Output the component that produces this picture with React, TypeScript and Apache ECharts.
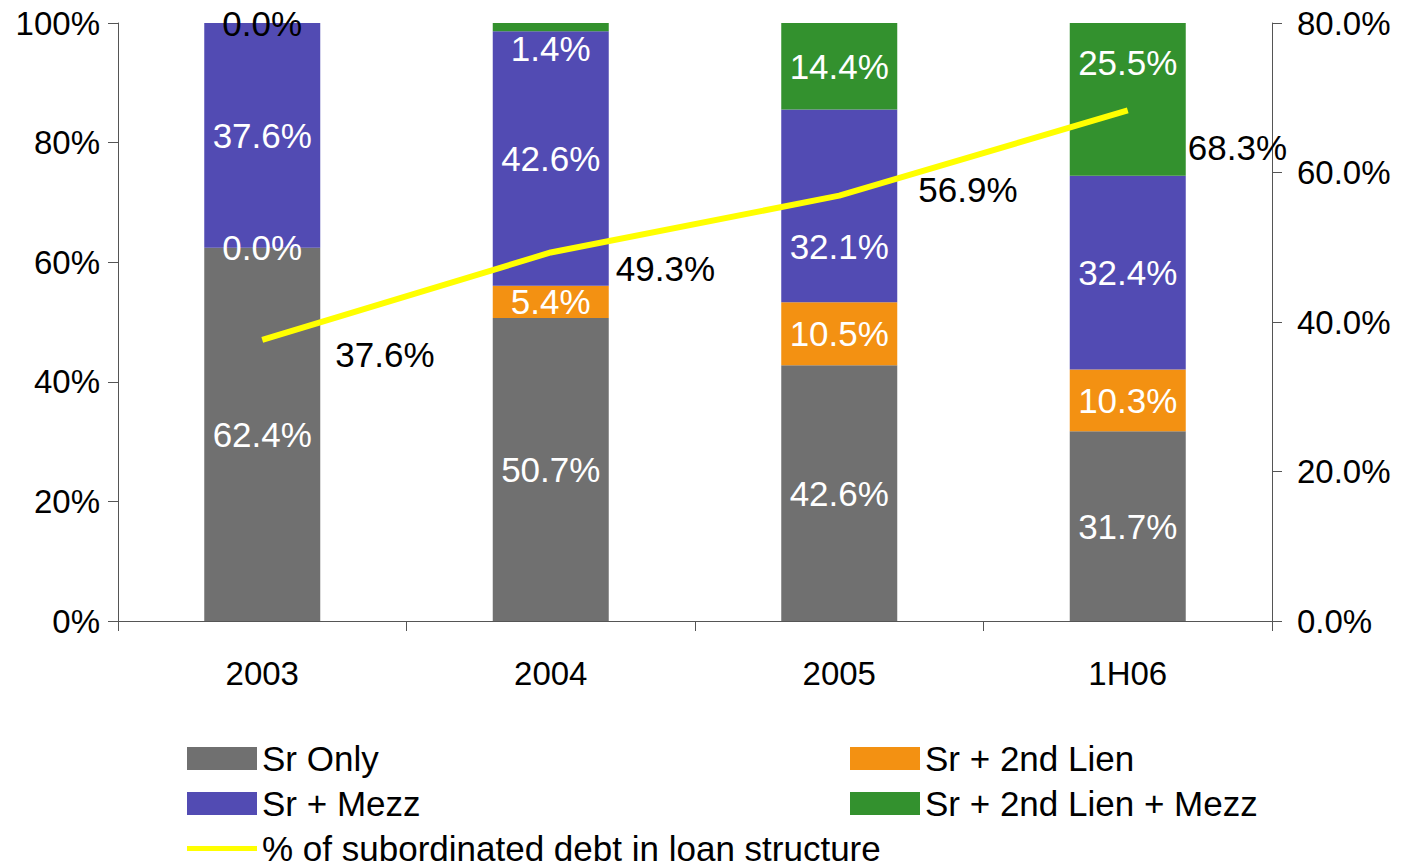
import React, { useEffect, useRef } from "react";
import * as echarts from "echarts";

const categories = ["2003", "2004", "2005", "1H06"];
const srOnly = [62.4, 50.7, 42.6, 31.7];
const sr2ndLien = [0.0, 5.4, 10.5, 10.3];
const srMezz = [37.6, 42.6, 32.1, 32.4];
const sr2ndLienMezz = [0.0, 1.4, 14.4, 25.5];
const subordinatedPct = [37.6, 49.3, 56.9, 68.3];

const seriesNames = ["Sr Only", "Sr + 2nd Lien", "Sr + Mezz", "Sr + 2nd Lien + Mezz"];
const lineName = "% of subordinated debt in loan structure";

const FONT = "'Liberation Sans', Arial, sans-serif";
const AXIS_FS = 33;
const FS = 35;

export default function App() {
  const ref = useRef<HTMLDivElement>(null);

  useEffect(() => {
    if (!ref.current) return;
    const chart = echarts.init(ref.current, null, { renderer: "svg" });

    const stacks = [srOnly, sr2ndLien, srMezz, sr2ndLienMezz];
    const colors = ["#707070", "#F39112", "#524BB3", "#33912E"];
    const totals = categories.map((_, i) => stacks.reduce((s, arr) => s + arr[i], 0));
    const labelOffsets: Record<string, number[]> = {
      "3-1": [0, 21],
      "3-3": [0, -37],
      "2-2": [0, 41],
    };
    const labelColors: Record<string, string> = { "3-0": "#000000" };

    const barSeries = stacks.map((arr, si) => ({
      name: seriesNames[si],
      type: "bar",
      stack: "total",
      barWidth: 116,
      itemStyle: { color: colors[si] },
      data: arr.map((v, i) => {
        const key = `${si}-${i}`;
        return {
          value: (v / totals[i]) * 100,
          label: {
            offset: labelOffsets[key] || [0, 0],
            color: labelColors[key] || "#ffffff",
          },
        };
      }),
      label: {
        show: true,
        position: "inside",
        fontSize: FS,
        fontFamily: FONT,
        formatter: (p: any) => arr[p.dataIndex].toFixed(1) + "%",
      },
    }));

    const lineOffsets = [
      [73, 15],
      [65, 16],
      [79, -6],
      [60, 37],
    ];

    const legendBase = {
      orient: "horizontal",
      padding: 0,
      itemWidth: 70,
      itemHeight: 23,
      textStyle: { fontSize: FS, fontFamily: FONT, color: "#000" },
    };
    const lineIcon = "path://M0,0 M70,23 M0,9 L70,9 L70,14 L0,14 Z";

    const option = {
      animation: false,
      textStyle: { fontFamily: FONT },
      grid: { left: 118, right: 130, top: 23, bottom: 245, containLabel: false },
      legend: [
        { ...legendBase, left: 187, top: 741, data: [{ name: "Sr Only", icon: "rect" }] },
        { ...legendBase, left: 187, top: 786, data: [{ name: "Sr + Mezz", icon: "rect" }] },
        { ...legendBase, left: 187, top: 831, data: [{ name: lineName, icon: lineIcon }] },
        { ...legendBase, left: 850, top: 741, data: [{ name: "Sr + 2nd Lien", icon: "rect" }] },
        { ...legendBase, left: 850, top: 786, data: [{ name: "Sr + 2nd Lien + Mezz", icon: "rect" }] },
      ],
      xAxis: {
        type: "category",
        data: categories,
        axisLine: { lineStyle: { color: "#555", width: 1 } },
        axisTick: { show: true, length: 10, lineStyle: { color: "#555" } },
        axisLabel: { fontSize: AXIS_FS, fontFamily: FONT, color: "#000", margin: 36 },
      },
      yAxis: [
        {
          type: "value",
          min: 0,
          max: 100,
          interval: 20,
          position: "left",
          splitLine: { show: false },
          axisLine: { show: true, lineStyle: { color: "#555", width: 1 } },
          axisTick: { show: true, length: 10, lineStyle: { color: "#555" } },
          axisLabel: {
            fontSize: AXIS_FS,
            fontFamily: FONT,
            color: "#000",
            margin: 18,
            formatter: (v: number) => v + "%",
          },
        },
        {
          type: "value",
          min: 0,
          max: 80,
          interval: 20,
          position: "right",
          splitLine: { show: false },
          axisLine: { show: true, lineStyle: { color: "#555", width: 1 } },
          axisTick: { show: true, length: 10, lineStyle: { color: "#555" } },
          axisLabel: {
            fontSize: AXIS_FS,
            fontFamily: FONT,
            color: "#000",
            margin: 25,
            formatter: (v: number) => v.toFixed(1) + "%",
          },
        },
      ],
      series: [
        ...barSeries,
        {
          name: lineName,
          type: "line",
          yAxisIndex: 1,
          symbol: "circle",
          symbolSize: 0.1,
          showSymbol: true,
          z: 5,
          lineStyle: { color: "#FFFF00", width: 6 },
          itemStyle: { color: "#FFFF00" },
          data: subordinatedPct.map((v, i) => ({
            value: v,
            label: { offset: lineOffsets[i] },
          })),
          label: {
            show: true,
            position: "right",
            distance: 0,
            fontSize: FS,
            fontFamily: FONT,
            color: "#000",
            formatter: (p: any) => subordinatedPct[p.dataIndex].toFixed(1) + "%",
          },
        },
      ],
    };

    chart.setOption(option as any);
    return () => chart.dispose();
  }, []);

  return (
    <div
      ref={ref}
      style={{ position: "fixed", left: 0, top: 0, width: 1402, height: 866, background: "#fff" }}
    />
  );
}
